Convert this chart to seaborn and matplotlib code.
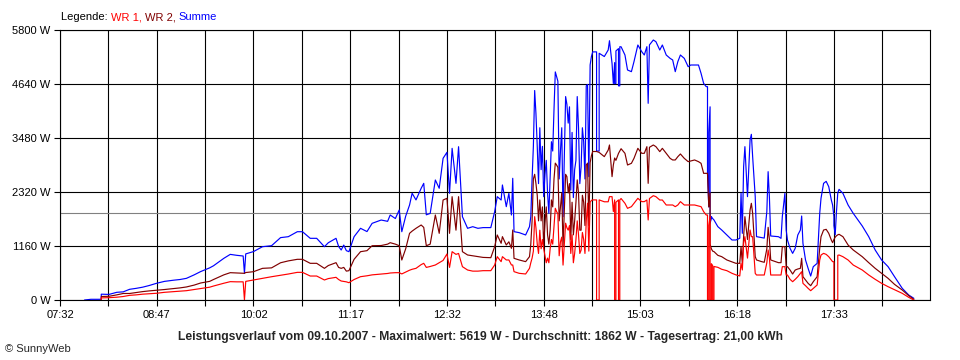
import matplotlib
matplotlib.use("Agg")
import numpy as np
import pandas as pd
import matplotlib.pyplot as plt
import seaborn as sns

nan = np.nan

# Messzeitpunkte (gleiche Zeit zweimal = senkrechter Sprung)
times = [
    "07:51", "07:56", "08:04", "08:04", "08:10", "08:16", "08:21", "08:26", "08:31", "08:36",
    "08:41", "08:47", "08:53", "09:00", "09:05", "09:10", "09:16", "09:21", "09:28", "09:31",
    "09:39", "09:44", "09:49", "09:54", "09:55", "09:56", "10:02", "10:09", "10:16", "10:23",
    "10:29", "10:36", "10:40", "10:46", "10:51", "10:57", "11:00", "11:06", "11:08", "11:10",
    "11:12", "11:14", "11:16", "11:20", "11:25", "11:30", "11:34", "11:41", "11:46", "11:48",
    "11:52", "11:55", "11:57", "12:00", "12:03", "12:05", "12:08", "12:12", "12:14", "12:16",
    "12:19", "12:23", "12:26", "12:29", "12:32", "12:34", "12:36", "12:39", "12:41", "12:44",
    "12:48", "12:52", "12:56", "13:00", "13:06", "13:09", "13:11", "13:14", "13:15", "13:18",
    "13:20", "13:22", "13:23", "13:24", "13:28", "13:33", "13:36", "13:37", "13:38", "13:39",
    "13:40", "13:41", "13:42", "13:43", "13:44", "13:45", "13:46", "13:47", "13:48", "13:49",
    "13:50", "13:51", "13:52", "13:53", "13:54", "13:55", "13:56", "13:57", "13:58", "13:59",
    "14:00", "14:01", "14:02", "14:03", "14:04", "14:05", "14:06", "14:07", "14:08", "14:09",
    "14:10", "14:11", "14:12", "14:13", "14:14", "14:15", "14:16", "14:17", "14:18", "14:19",
    "14:20", "14:21", "14:22", "14:23", "14:24", "14:25", "14:28", "14:28", "14:30", "14:30",
    "14:34", "14:37", "14:38", "14:40", "14:41", "14:42", "14:42", "14:43", "14:43", "14:45",
    "14:45", "14:46", "14:46", "14:47", "14:50", "14:52", "14:55", "14:57", "15:00", "15:03",
    "15:05", "15:07", "15:08", "15:09", "15:12", "15:14", "15:17", "15:19", "15:22", "15:25",
    "15:27", "15:29", "15:31", "15:33", "15:36", "15:39", "15:41", "15:44", "15:47", "15:49",
    "15:51", "15:53", "15:54", "15:54", "15:55", "15:55", "15:56", "15:56", "15:57", "15:57",
    "15:58", "15:58", "15:59", "15:59", "16:02", "16:05", "16:09", "16:13", "16:16", "16:19",
    "16:20", "16:21", "16:22", "16:23", "16:25", "16:27", "16:28", "16:29", "16:31", "16:32",
    "16:36", "16:38", "16:40", "16:41", "16:42", "16:43", "16:49", "16:51", "16:52", "16:54",
    "16:55", "16:56", "16:58", "17:00", "17:02", "17:04", "17:06", "17:07", "17:08", "17:10",
    "17:12", "17:14", "17:16", "17:19", "17:21", "17:22", "17:24", "17:26", "17:28", "17:29",
    "17:30", "17:31", "17:32", "17:32", "17:33", "17:34", "17:35", "17:35", "17:36", "17:39",
    "17:43", "17:47", "17:54", "17:59", "18:04", "18:09", "18:14", "18:19", "18:25", "18:30",
    "18:34",
]

summe_w = [
    0, 15, 15, 125, 120, 165, 175, 230, 250, 275,
    310, 360, 400, 425, 440, 465, 540, 610, 690, 735,
    895, 980, 960, 945, 573, 990, 1040, 1145, 1166, 1340,
    1360, 1467, 1467, 1325, 1325, 1145, 1230, 1325, 1150, 1074,
    1180, 1060, 1038, 1360, 1540, 1470, 1647, 1718, 1690, 1826,
    1750, 1933, 1467, 1800, 2040, 2292, 2150, 2399, 2506, 1830,
    1860, 2578, 2400, 3044, 3172, 2292, 3258, 2506, 3293, 1790,
    1540, 1575, 1540, 1555, 1555, 1898, 2220, 2148, 2471, 2005,
    2292, 1826, 2614, 1468, 1447, 1397, 1576, 1790, 2600, 3300,
    4500, 4000, 3300, 2500, 3700, 2800, 3300, 2220, 2700, 3000,
    2300, 1860, 2600, 3400, 3200, 4100, 4900, 4800, 4700, 2600,
    3200, 3700, 1790, 3100, 4370, 4200, 3800, 4150, 2360, 3600,
    2200, 2800, 3000, 4370, 3700, 2500, 2860, 3700, 3400, 2600,
    4600, 4630, 2650, 5050, 5230, 5330, 5330, 3200, 3200, 5300,
    5230, 5370, 5570, 5080, 4650, 5100, 4650, 4650, 5350, 5400,
    4600, 4600, 5440, 5440, 5263, 4941, 4905, 5120, 5478, 5335,
    5263, 5442, 4225, 5480, 5585, 5549, 5370, 5478, 5263, 5191,
    5156, 4905, 5120, 5263, 5191, 5012, 5048, 5048, 5048, 4869,
    4654, 4583, 4583, 2721, 2000, 3600, 4150, 1650, 1750, 1790,
    1750, 1750, 1720, 1720, 1576, 1504, 1397, 1289, 1289, 1325,
    2292, 1432, 2864, 3294, 2220, 3437, 3559, 3079, 2220, 1361,
    1340, 1330, 1900, 2757, 2200, 1375, 1360, 1324, 1790, 2291,
    1503, 1288, 1110, 1002, 1110, 1396, 1503, 1804, 1217, 859,
    680, 515, 716, 787, 1861, 2183, 2506, 2549, 2434, 2291,
    2148, 2040, 1790, 1600, 1400, 1900, 2300, 2300, 2377, 2291,
    2040, 1861, 1589, 1360, 1074, 859, 716, 501, 250, 107,
    36,
]

wr2_w = [
    nan, nan, 0, 75, 80, 110, 140, 140, 160, 180,
    195, 210, 225, 245, 260, 280, 320, 365, 400, 440,
    540, 587, 580, 573, 573, 590, 608, 680, 690, 800,
    840, 874, 874, 788, 788, 680, 740, 802, 700, 680,
    700, 620, 630, 874, 1038, 1060, 1166, 1170, 1200, 1231,
    1200, 1166, 859, 1100, 1432, 1480, 1540, 1611, 1560, 1166,
    1200, 1826, 1432, 2148, 2184, 1432, 2220, 1500, 2220, 1038,
    967, 950, 931, 915, 909, 1146, 1397, 1218, 1361, 1182,
    1250, 1110, 1504, 895, 860, 824, 931, 1200, 1700, 2600,
    2700, 2500, 2250, 1700, 2150, 1700, 2000, 1150, 1650, 2000,
    1400, 1200, 1500, 2150, 2000, 2600, 2940, 2900, 2850, 1700,
    2000, 2300, 1150, 1900, 2700, 2650, 2300, 2500, 1300, 2100,
    1400, 1700, 2100, 2580, 2300, 1500, 1500, 2250, 2100, 1600,
    2900, 2940, 1600, 2950, 3100, 3190, 3190, 3190, 3170, 3170,
    3080, 3220, 3330, 2650, 2900, 3050, 3050, 3000, 3000, 3150,
    3150, 3200, 3200, 3250, 3151, 2900, 2936, 3043, 3258, 3151,
    3151, 3294, 2506, 3280, 3330, 3294, 3187, 3258, 3151, 3043,
    3008, 3008, 3079, 3137, 3043, 2972, 2986, 3008, 2972, 2936,
    2721, 2721, 2721, 2721, 2000, 2000, 2300, 1200, 1100, 1100,
    1050, 1050, 1040, 1040, 960, 931, 860, 820, 788, 788,
    1146, 788, 1361, 1790, 1300, 1934, 2077, 1862, 931, 860,
    824, 810, 1100, 1561, 1300, 860, 802, 802, 1145, 1145,
    716, 716, 644, 558, 644, 666, 680, 895, 501, 429,
    358, 307, 393, 501, 1110, 1360, 1503, 1518, 1432, 1360,
    1288, 1231, 1300, 1300, 1350, 1380, 1400, 1400, 1411, 1360,
    1181, 1074, 930, 802, 680, 573, 465, 336, 214, 93,
    14,
]

wr1_w = [
    nan, nan, 0, 45, 50, 60, 75, 100, 110, 125,
    135, 145, 165, 180, 190, 200, 225, 245, 275, 300,
    360, 394, 390, 390, 0, 400, 430, 465, 500, 530,
    558, 594, 594, 515, 515, 430, 460, 487, 440, 408,
    400, 390, 372, 440, 501, 520, 540, 558, 570, 580,
    587, 587, 560, 600, 640, 660, 680, 760, 788, 700,
    720, 752, 800, 850, 988, 700, 1038, 980, 1000, 716,
    644, 620, 620, 630, 630, 752, 931, 824, 931, 860,
    860, 752, 752, 609, 573, 559, 681, 800, 900, 1050,
    1790, 1550, 1200, 1000, 1500, 1100, 1300, 1100, 950, 800,
    900, 800, 1100, 1300, 1200, 1600, 1970, 1900, 1850, 950,
    1250, 1350, 750, 1200, 1650, 1550, 1500, 1600, 1000, 1400,
    800, 1000, 1300, 1700, 1400, 1000, 1070, 1450, 1300, 1000,
    1700, 2080, 1050, 2100, 2140, 2150, 2150, 0, 0, 2150,
    2110, 2110, 2220, 2220, 1900, 2150, 0, 0, 2100, 2150,
    0, 0, 2150, 2180, 2077, 1969, 2005, 2077, 2184, 2113,
    2113, 2148, 1719, 2180, 2241, 2220, 2148, 2148, 2041, 2041,
    2041, 2005, 2041, 2113, 2041, 2041, 2041, 2041, 2020, 2005,
    1898, 1826, 1826, 0, 0, 1600, 1800, 0, 0, 780,
    740, 0, 0, 720, 702, 660, 630, 573, 540, 516,
    788, 645, 1218, 1361, 900, 1504, 1361, 1361, 573, 537,
    537, 537, 800, 1074, 900, 537, 537, 537, 716, 716,
    537, 537, 444, 393, 444, 501, 573, 608, 358, 307,
    250, 200, 250, 322, 859, 966, 1002, 980, 930, 895,
    859, 823, 823, 0, 0, 0, 0, 960, 967, 930,
    859, 751, 644, 537, 444, 358, 286, 222, 143, 57,
    0,
]

x_tick_labels = ["07:32", "08:47", "10:02", "11:17", "12:32",
                 "13:48", "15:03", "16:18", "17:33", "18:48"]
y_ticks = [0, 1160, 2320, 3480, 4640, 5800]
average_w = 1862

title = ("Leistungsverlauf vom 09.10.2007 - Maximalwert: 5619 W - "
         "Durchschnitt: 1862 W - Tagesertrag: 21,00 kWh")

colors = {"WR 1": "#ff0000", "WR 2": "#800000", "Summe": "#0000ff"}


def to_minutes(t):
    h, m = t.split(":")
    return int(h) * 60 + int(m)


assert len(times) == len(summe_w) == len(wr2_w) == len(wr1_w)

df = pd.DataFrame({
    "minute": [to_minutes(t) for t in times],
    "Summe": summe_w,
    "WR 2": wr2_w,
    "WR 1": wr1_w,
})
long_df = df.melt(id_vars="minute", var_name="series", value_name="watt").dropna()

sns.set_style("white")
plt.rcParams["font.family"] = ["Liberation Sans", "DejaVu Sans"]

fig = plt.figure(figsize=(9.6, 3.6), dpi=100)
ax = fig.add_axes([60 / 960, 60 / 360, 870 / 960, 270 / 360])

sns.lineplot(data=long_df, x="minute", y="watt", hue="series",
             hue_order=["Summe", "WR 2", "WR 1"], palette=colors,
             estimator=None, sort=False, legend=False, lw=0.85, ax=ax)

ax.axhline(average_w, color="#808080", lw=0.8, zorder=1.5)

# Achsen: Start 07:32, alle 37,5 min eine Gitterlinie
x0 = to_minutes(x_tick_labels[0])
major = [x0 + 75 * i for i in range(len(x_tick_labels))]
minor = [x0 + 37.5 + 75 * i for i in range(len(x_tick_labels) - 1)]
ax.set_xticks(major)
ax.set_xticklabels(x_tick_labels)
ax.set_xticks(minor, minor=True)
ax.set_xlim(x0, major[-1] - 0.5)

ax.set_yticks(y_ticks)
ax.set_yticklabels([f"{v} W" for v in y_ticks])
ax.set_ylim(0, 5800)

ax.set_xlabel("")
ax.set_ylabel("")
ax.set_axisbelow(True)
ax.grid(which="both", color="black", lw=0.8)
for sp in ax.spines.values():
    sp.set_color("black")
    sp.set_linewidth(0.8)

ax.tick_params(which="both", direction="out", length=4, width=0.8,
               color="black", labelsize=8, labelcolor="black", pad=3)
ax.tick_params(axis="both", which="both", bottom=True, left=True)

# Legende als farbiger Text oben links
renderer = fig.canvas.get_renderer()
xpos = 61
for part, c in [("Legende: ", "black"), ("WR 1, ", colors["WR 1"]),
                ("WR 2, ", colors["WR 2"]), ("Summe", colors["Summe"])]:
    t = fig.text(xpos / 960, 1 - 17 / 360, part, color=c, fontsize=8,
                 va="center", ha="left")
    xpos += t.get_window_extent(renderer=renderer).width

fig.text(480 / 960, 1 - 337 / 360, title, fontsize=8.7, fontweight="bold",
         ha="center", va="center")
fig.text(5 / 960, 1 - 349 / 360, "© SunnyWeb", fontsize=8,
         ha="left", va="center")

fig.savefig("out.png", dpi=100, facecolor="white")
